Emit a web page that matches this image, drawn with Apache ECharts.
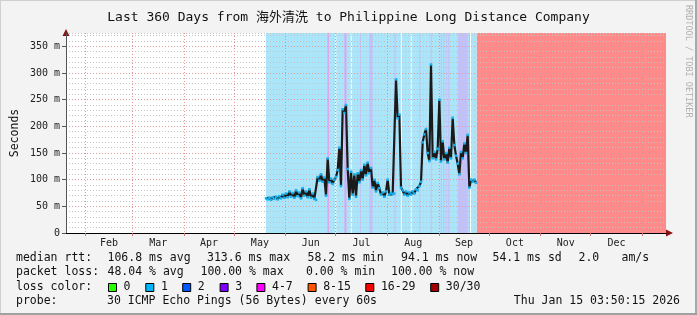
<!DOCTYPE html>
<html><head><meta charset="utf-8">
<script src="https://cdn.jsdelivr.net/npm/echarts@6/dist/echarts.min.js"></script>
<style>html,body{margin:0;padding:0;background:#f3f3f3}#c{width:697px;height:315px}</style>
</head><body><div id="c"></div><script>
// ---------- data ----------
const chartTitle = 'Last 360 Days from 海外清洗 to Philippine Long Distance Company';
const rangeStart = '2025-01-20T03:50:15';
const rangeEnd = '2026-01-15T03:50:15';
const monthStarts = ['2025-02-01','2025-03-01','2025-04-01','2025-05-01','2025-06-01','2025-07-01','2025-08-01','2025-09-01','2025-10-01','2025-11-01','2025-12-01','2026-01-01'];
const monthLabels = ['Feb','Mar','Apr','May','Jun','Jul','Aug','Sep','Oct','Nov','Dec'];
const yTickValues = [0,50,100,150,200,250,300,350];
const rttFirstDay = '2025-05-20T04:00:00';   // daily median rtt samples (ms)
const rttValues = [
 65,63,66,62,67,64,68,63,69,65,72,66,74,67,78,68,75,66,80,69,
 76,65,84,70,78,67,82,66,74,64,62,105,98,110,96,104,70,140,95,102,
 92,100,105,118,160,88,232,225,240,120,64,115,72,110,68,112,95,118,100,128,
 108,132,112,122,85,100,78,94,84,72,76,68,78,100,72,75,73,74,288,215,
 222,85,80,72,78,70,76,72,78,74,82,80,88,96,170,185,195,150,135,316,
 140,152,138,158,250,134,172,138,150,132,160,140,216,165,145,130,110,152,140,168,
 150,184,85,100,96,100,94
];
// loss background periods: [from, to, class] class: 0=1 lost,1=3 lost,2=4-7 lost,3=no data,4=all lost
const lossBands = [
 ['2025-05-20T02:00','2025-09-23T16:00',0],
 ['2025-06-26T00:00','2025-06-27T00:00',2],
 ['2025-06-30T18:00','2025-07-01T06:00',3],
 ['2025-07-06T04:00','2025-07-07T12:00',2],
 ['2025-07-10T02:00','2025-07-10T14:00',3],
 ['2025-07-15T12:00','2025-07-16T00:00',1],
 ['2025-07-21T04:00','2025-07-23T04:00',1],
 ['2025-08-05T06:00','2025-08-05T18:00',1],
 ['2025-08-09T02:00','2025-08-09T14:00',3],
 ['2025-08-15T02:00','2025-08-15T14:00',3],
 ['2025-08-20T04:00','2025-08-20T16:00',1],
 ['2025-08-27T00:00','2025-08-27T12:00',1],
 ['2025-09-02T00:00','2025-09-02T12:00',1],
 ['2025-09-03T12:00','2025-09-04T00:00',1],
 ['2025-09-05T00:00','2025-09-05T12:00',1],
 ['2025-09-06T12:00','2025-09-07T06:00',1],
 ['2025-09-12T04:00','2025-09-18T06:00',1],
 ['2025-09-19T02:00','2025-09-19T14:00',2],
 ['2025-09-19T14:00','2025-09-20T02:00',3],
 ['2025-09-23T16:00','2026-01-15T03:50',4]
];
const legendRows = [
 ['median rtt:', '106.8 ms avg', '313.6 ms max', '58.2 ms min', '94.1 ms now', '54.1 ms sd', '2.0', 'am/s'],
 ['packet loss:', '48.04 % avg', '100.00 % max', '0.00 % min', '100.00 % now']
];
const lossLegendLabels = ['0','1','2','3','4-7','8-15','16-29','30/30'];
const lossLegendColors = ['#26ff00','#00b8ff','#0059ff','#7e00ff','#ff00ff','#ff5500','#ff0000','#a10000'];
const probeText = '30 ICMP Echo Pings (56 Bytes) every 60s';
const stampText = 'Thu Jan 15 03:50:15 2026';

// ---------- build ----------
const ts = s => new Date(s).getTime();
const DAY = 86400000;
const t0 = ts(rttFirstDay);
const rttData = rttValues.map((v,i)=>[t0 + i*DAY, v]);
const monthTs = monthStarts.map(ts);
const midTs = monthLabels.map((_,i)=> Math.round((monthTs[i]+monthTs[i+1])/2));
const bandFill = ['#abe5fa','#c2c0f8','#d8a8f2','#ffffff','#ff8a8a'];
const MONO = '"DejaVu Sans Mono", "Noto Sans CJK SC", monospace';

const graphics = [];
const font = '11.5px ' + MONO;
const rowY = [258, 272];
const rowX = [
 [16, 107.5, 207, 307.5, 401, 492.5, 578.5, 621.5],
 [16, 107.5, 200.5, 306, 391]
];
legendRows.forEach((row,r)=>row.forEach((t,i)=>{
  graphics.push({type:'text', x: rowX[r][i], y: rowY[r], silent:true,
    style:{text:t, font, fill:'#111', verticalAlign:'middle'}});
}));
graphics.push({type:'text', x:16, y:287.5, silent:true, style:{text:'loss color:', font, fill:'#111', verticalAlign:'middle'}});
const boxX = [108,145.3,182.2,219.6,256.4,307.6,365.3,430.2];
lossLegendLabels.forEach((l,i)=>{
  graphics.push({type:'rect', silent:true, shape:{x:boxX[i]+0.5, y:283.5, width:8, height:8},
    style:{fill:lossLegendColors[i], stroke:'#000', lineWidth:1}});
  graphics.push({type:'text', x: boxX[i]+15.6, y:287.5, silent:true, style:{text:l, font, fill:'#111', verticalAlign:'middle'}});
});
graphics.push({type:'text', x:16, y:301.5, silent:true, style:{text:'probe:', font, fill:'#111', verticalAlign:'middle'}});
graphics.push({type:'text', x:107, y:301.5, silent:true, style:{text:probeText, font, fill:'#111', verticalAlign:'middle'}});
graphics.push({type:'text', x:680, y:301.5, silent:true, style:{text:stampText, font, fill:'#111', verticalAlign:'middle', align:'right'}});
graphics.push({type:'text', x:15, y:133, rotation:Math.PI/2, silent:true,
  style:{text:'Seconds', font:'11.5px '+MONO, fill:'#111', align:'center', verticalAlign:'middle'}});
graphics.push({type:'text', x:688, y:5, rotation:-Math.PI/2, silent:true,
  style:{text:'RRDTOOL / TOBI OETIKER', font:'8.5px '+MONO, fill:'#b0b0b0', align:'left', verticalAlign:'middle'}});
// axis arrows
graphics.push({type:'polygon', silent:true, shape:{points:[[666,229.5],[673,233],[666,236.5]]}, style:{fill:'#8b1010'}});
graphics.push({type:'polygon', silent:true, shape:{points:[[62.5,36],[66,29],[69.5,36]]}, style:{fill:'#8b1010'}});
// frame
graphics.push({type:'rect', silent:true, shape:{x:0,y:0,width:697,height:1}, style:{fill:'#d0d0d0'}});
graphics.push({type:'rect', silent:true, shape:{x:0,y:0,width:1,height:315}, style:{fill:'#d0d0d0'}});
graphics.push({type:'rect', silent:true, shape:{x:695,y:0,width:2,height:315}, style:{fill:'#a8a8a8'}});
graphics.push({type:'rect', silent:true, shape:{x:0,y:313,width:697,height:2}, style:{fill:'#a0a0a0'}});

const chart = echarts.init(document.getElementById('c'), null, {renderer:'canvas'});
chart.setOption({
  animation:false,
  backgroundColor:'#f3f3f3',
  title:{text:chartTitle, left:'center', top:6, textStyle:{fontFamily:MONO, fontSize:13, fontWeight:'normal', color:'#111'}},
  grid:{left:66, top:33, width:600, height:200, show:true, backgroundColor:'#ffffff', borderWidth:0, z:0},
  xAxis:{type:'value', min:ts(rangeStart), max:ts(rangeEnd), z:4,
    axisLine:{show:true, onZero:false, lineStyle:{color:'#000', width:1}},
    axisTick:{show:true, customValues:monthTs, length:3, lineStyle:{color:'#d07070'}},
    axisLabel:{customValues:midTs, formatter:(v)=>{const i=midTs.indexOf(v); return i>=0?monthLabels[i]:'';},
      fontFamily:MONO, fontSize:10, color:'#222', margin:5, hideOverlap:false},
    splitLine:{show:true, lineStyle:{color:'#e39595', type:[1,2], width:1}}
  },
  yAxis:[
    {type:'value', min:0, max:375, interval:50, z:4,
     axisLine:{show:true, lineStyle:{color:'#555'}},
     axisTick:{show:true, customValues:yTickValues, length:4, lineStyle:{color:'#555'}},
     axisLabel:{customValues:yTickValues, formatter:v=> v===0?'0':v+' m', fontFamily:MONO, fontSize:10, color:'#222', margin:6},
     splitLine:{show:true, lineStyle:{color:'#e39595', type:[1,2], width:1}}},
    {type:'value', min:0, max:375, interval:10, z:3, position:'left',
     axisLine:{show:false}, axisTick:{show:false}, axisLabel:{show:false},
     splitLine:{show:true, lineStyle:{color:'#c4c4c4', type:[1,2], width:1}}}
  ],
  series:[
    {type:'custom', z:1, silent:true, xAxisIndex:0, yAxisIndex:0,
     encode:{x:[0,1]},
     data: lossBands.map(b=>[ts(b[0]), ts(b[1]), b[2]]),
     renderItem:(params, api)=>{
       const s = api.coord([api.value(0), 0]);
       const e = api.coord([api.value(1), 0]);
       const cs = params.coordSys;
       return {type:'rect', shape:{x:s[0], y:cs.y, width:Math.max(e[0]-s[0],1), height:cs.height},
               style:{fill: bandFill[api.value(2)]}};
     }},
    {type:'line', z:5, xAxisIndex:0, yAxisIndex:0, data:rttData,
     showSymbol:true, showAllSymbol:true, symbol:'rect', symbolSize:2.5,
     itemStyle:{color:'#14b0f0'}, lineStyle:{color:'#1a1a1a', width:2.2}}
  ],
  graphic: graphics
});
</script></body></html>
